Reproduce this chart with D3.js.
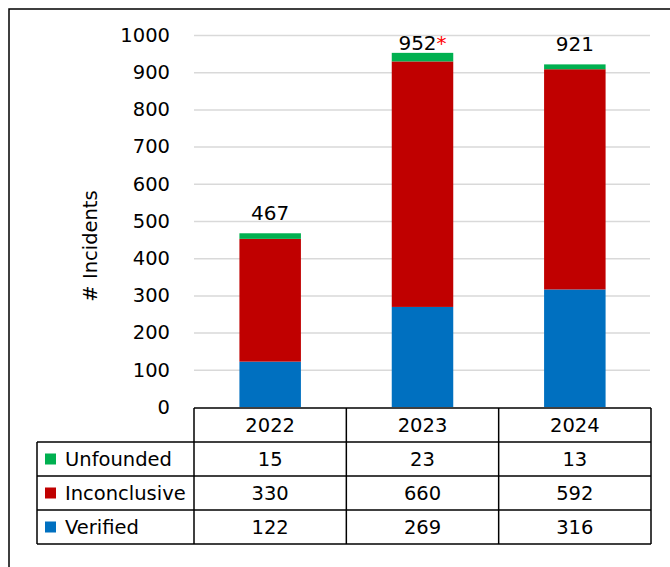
<!DOCTYPE html>
<html>
<head>
<meta charset="utf-8">
<script src="https://cdn.jsdelivr.net/npm/d3@7"></script>
<style>
  body { margin: 0; background: #fff; }
  svg text { font-family: "DejaVu Sans", sans-serif; fill: #000; }
</style>
</head>
<body>
<div id="chart"></div>
<script>
// categories and series
var YEARS = ['2022', '2023', '2024'];
var SERIES = ['Verified', 'Inconclusive', 'Unfounded'];
var VERIFIED = [122, 269, 316];
var INCONCLUSIVE = [330, 660, 592];
var UNFOUNDED = [15, 23, 13];
var TOTAL_NOTES = ['', '*', ''];
var Y_TICKS = [0, 100, 200, 300, 400, 500, 600, 700, 800, 900, 1000];

var COLORS = { Verified: '#0070c0', Inconclusive: '#c00000', Unfounded: '#00b050' };
var TABLE_ROWS = ['Unfounded', 'Inconclusive', 'Verified'];

var W = 670, H = 567;
var plotLeft = 194, plotRight = 651, plotTop = 35, plotBottom = 407;
var FONT = '19.5px';

var rows = YEARS.map(function(y, i) {
  return { year: y, Verified: VERIFIED[i], Inconclusive: INCONCLUSIVE[i], Unfounded: UNFOUNDED[i] };
});

var svg = d3.select('#chart').append('svg')
    .attr('width', W)
    .attr('height', H);

svg.append('rect').attr('width', W).attr('height', H).attr('fill', '#fff');

// outer frame (runs off the right and bottom)
svg.append('rect')
    .attr('x', 9).attr('y', 9)
    .attr('width', 700).attr('height', 600)
    .attr('fill', 'none').attr('stroke', '#000').attr('stroke-width', 1.5);

var x = d3.scaleBand().domain(YEARS).range([plotLeft, plotRight]).padding(0);
var y = d3.scaleLinear().domain([0, 1000]).range([plotBottom, plotTop]);

// y axis with gridlines
var yAxis = svg.append('g')
    .attr('transform', 'translate(' + plotLeft + ',0)')
    .call(d3.axisLeft(y)
      .tickValues(Y_TICKS)
      .tickFormat(d3.format('d'))
      .tickSize(-(plotRight - plotLeft - 1))
      .tickPadding(24));
yAxis.select('.domain').remove();
yAxis.selectAll('.tick line')
    .attr('stroke', '#d9d9d9').attr('stroke-width', 1.5)
    .filter(function(d) { return d === 0; }).remove();
yAxis.selectAll('.tick text')
    .style('font-family', '"DejaVu Sans", sans-serif')
    .style('font-size', FONT)
    .attr('fill', '#000');

// axis title
svg.append('text')
    .attr('transform', 'translate(90,246) rotate(-90)')
    .attr('text-anchor', 'middle')
    .attr('dominant-baseline', 'central')
    .style('font-size', FONT)
    .text('# Incidents');

// stacked bars
var stack = d3.stack().keys(SERIES)(rows);
var barW = 61.5;

svg.append('g').selectAll('g')
  .data(stack)
  .join('g')
    .attr('fill', function(d) { return COLORS[d.key]; })
  .selectAll('rect')
  .data(function(d) { return d; })
  .join('rect')
    .attr('x', function(d) { return x(d.data.year) + x.bandwidth() / 2 - barW / 2; })
    .attr('y', function(d) { return y(d[1]); })
    .attr('width', barW)
    .attr('height', function(d) { return y(d[0]) - y(d[1]); });

// totals (kept inside the plot at the top)
var total = function(d) { return d.Verified + d.Inconclusive + d.Unfounded; };
var totals = svg.append('g').selectAll('text')
  .data(rows)
  .join('text')
    .attr('x', function(d) { return x(d.year) + x.bandwidth() / 2; })
    .attr('y', function(d) { return Math.max(y(total(d)) - 13.5, 49.5); })
    .attr('text-anchor', 'middle')
    .style('font-size', '20px');
totals.append('tspan').text(total);
totals.append('tspan')
    .style('fill', '#ff0000')
    .text(function(d, i) { return TOTAL_NOTES[i]; });

// data table
var tTop = 408, rowH = 34, tLeft = 37;
var table = svg.append('g');
var line = function(x1, y1, x2, y2) {
  table.append('line')
      .attr('x1', x1).attr('y1', y1).attr('x2', x2).attr('y2', y2)
      .attr('stroke', '#000').attr('stroke-width', 1.5);
};

line(plotLeft, tTop, plotRight, tTop);
line(tLeft, tTop + rowH, plotRight, tTop + rowH);
TABLE_ROWS.forEach(function(k, i) {
  line(tLeft, tTop + rowH * (i + 2), plotRight, tTop + rowH * (i + 2));
});
line(tLeft, tTop + rowH, tLeft, tTop + rowH * 4);
x.domain().forEach(function(yr) { line(x(yr), tTop, x(yr), tTop + rowH * 4); });
line(plotRight, tTop, plotRight, tTop + rowH * 4);

table.selectAll('text.year')
  .data(YEARS)
  .join('text')
    .attr('class', 'year')
    .attr('x', function(d) { return x(d) + x.bandwidth() / 2; })
    .attr('y', tTop + rowH / 2)
    .attr('text-anchor', 'middle')
    .attr('dominant-baseline', 'central')
    .style('font-size', FONT)
    .text(function(d) { return d; });

TABLE_ROWS.forEach(function(key, i) {
  var cy = tTop + rowH * (i + 1) + rowH / 2;
  table.append('rect')
      .attr('x', 45).attr('y', cy - 5.5)
      .attr('width', 11).attr('height', 11)
      .attr('fill', COLORS[key]);
  table.append('text')
      .attr('x', 65).attr('y', cy)
      .attr('dominant-baseline', 'central')
      .style('font-size', FONT)
      .text(key);
  table.selectAll('text.v' + i)
    .data(rows)
    .join('text')
      .attr('class', 'v' + i)
      .attr('x', function(d) { return x(d.year) + x.bandwidth() / 2; })
      .attr('y', cy)
      .attr('text-anchor', 'middle')
      .attr('dominant-baseline', 'central')
      .style('font-size', FONT)
      .text(function(d) { return d[key]; });
});
</script>
</body>
</html>
